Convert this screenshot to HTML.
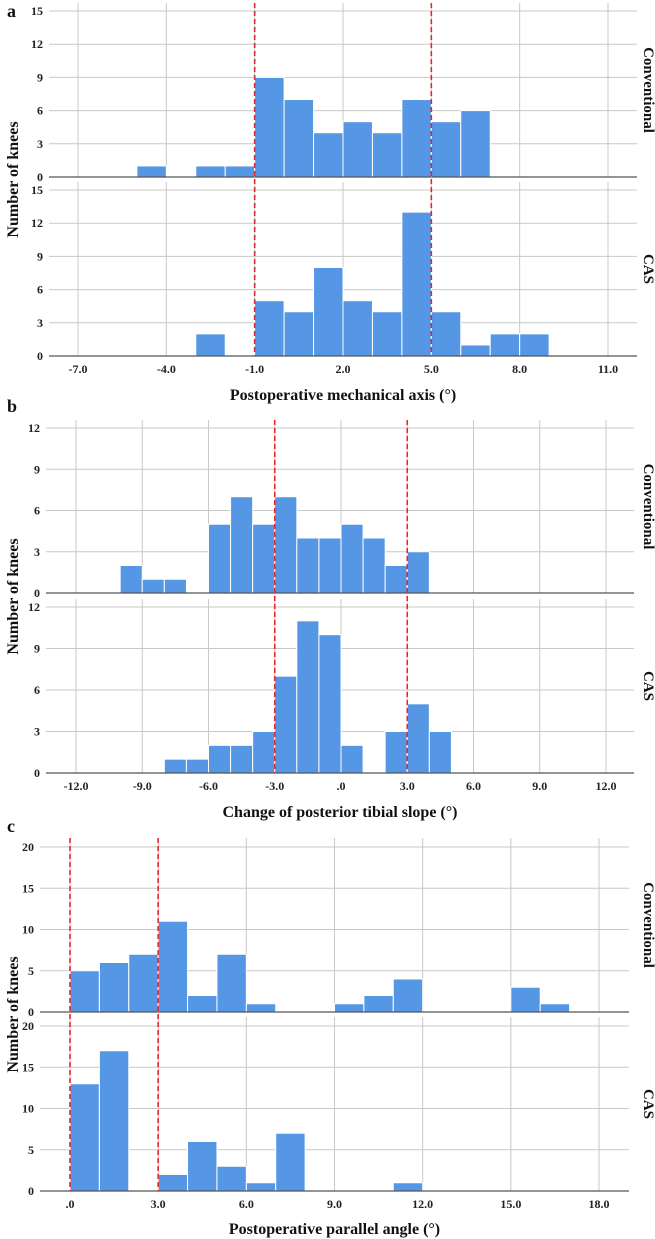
<!DOCTYPE html>
<html><head><meta charset="utf-8">
<style>
html,body{margin:0;padding:0;background:#fff;}
svg{display:block;font-family:"Liberation Serif",serif;}
</style></head>
<body>
<svg id="chart" width="655" height="1239" viewBox="0 0 655 1239" xmlns="http://www.w3.org/2000/svg"></svg>
<script>
// Panel a data
const aBinStarts = [-5,-4,-3,-2,-1,0,1,2,3,4,5,6,7,8];
const aConv = [1,0,1,1,9,7,4,5,4,7,5,6,0,0];
const aCas  = [0,0,2,0,5,4,8,5,4,13,4,1,2,2];
const aXTicks = [-7,-4,-1,2,5,8,11];
const aXLabels = ["-7.0","-4.0","-1.0","2.0","5.0","8.0","11.0"];
const aYTicks = [0,3,6,9,12,15];
const aRefs = [-1,5];
// Panel b data
const bBinStarts = [-10,-9,-8,-7,-6,-5,-4,-3,-2,-1,0,1,2,3,4];
const bConv = [2,1,1,0,5,7,5,7,4,4,5,4,2,3,0];
const bCas  = [0,0,1,1,2,2,3,7,11,10,2,0,3,5,3];
const bXTicks = [-12,-9,-6,-3,0,3,6,9,12];
const bXLabels = ["-12.0","-9.0","-6.0","-3.0",".0","3.0","6.0","9.0","12.0"];
const bYTicks = [0,3,6,9,12];
const bRefs = [-3,3];
// Panel c data
const cBinStarts = [0,1,2,3,4,5,6,7,8,9,10,11,12,13,14,15,16];
const cConv = [5,6,7,11,2,7,1,0,0,1,2,4,0,0,0,3,1];
const cCas  = [13,17,0,2,6,3,1,7,0,0,0,1,0,0,0,0,0];
const cXTicks = [0,3,6,9,12,15,18];
const cXLabels = [".0","3.0","6.0","9.0","12.0","15.0","18.0"];
const cYTicks = [0,5,10,15,20];
const cRefs = [0,3];

const NS="http://www.w3.org/2000/svg";
const svg=document.getElementById('chart');
function mk(tag,attrs,parent){const e=document.createElementNS(NS,tag);for(const k in attrs)e.setAttribute(k,attrs[k]);(parent||svg).appendChild(e);return e;}

function panel(cfg){
  const g=mk('g',{});
  
  
  const xs=v=>cfg.x0+(v-cfg.xa)*(cfg.x1-cfg.x0)/(cfg.xb-cfg.xa);
  const facets=[{vals:cfg.conv,y0:cfg.t0,yM:cfg.tM,top:cfg.tTop,name:'Conventional',key:'conventional'},
                {vals:cfg.cas,y0:cfg.b0,yM:cfg.bM,top:cfg.bTop,name:'CAS',key:'cas'}];
  const maxT=cfg.yTicks[cfg.yTicks.length-1];
  facets.forEach(f=>{
    const ys=v=>f.y0-(v)*(f.y0-f.yM)/maxT;
    cfg.xTicks.forEach(t=>{const l=mk('line',{x1:xs(t),x2:xs(t),y1:f.top,y2:f.y0,stroke:'#c8c8c8','stroke-width':1},g);
      });
    cfg.yTicks.forEach(t=>{
      if(t>0){const l=mk('line',{x1:cfg.fL,x2:cfg.fR,y1:ys(t),y2:ys(t),stroke:'#c8c8c8','stroke-width':1},g);
        }
      const tx=mk('text',{x:cfg.fL-6,y:ys(t)+4,'text-anchor':'end','font-size':12,'font-weight':'bold',fill:'#222'},g);
      tx.textContent=t;
      
    });
    cfg.bins.forEach((b,i)=>{
      const v=f.vals[i]; if(!v) return;
      const r=mk('rect',{x:xs(b),y:ys(v),width:xs(b+1)-xs(b),height:f.y0-ys(v),fill:'#5596e5',stroke:'#fff','stroke-width':1},g);
      
      
    });
    const ax=mk('line',{x1:cfg.fL,x2:cfg.fR,y1:f.y0,y2:f.y0,stroke:'#555','stroke-width':1.2},g);
    
    const cy=(f.top+f.y0)/2;
    const fl=mk('text',{x:644,y:cy,'text-anchor':'middle','font-size':15,'font-weight':'bold',fill:'#111',transform:'rotate(90 644 '+cy+')'},g);
    fl.textContent=f.name;
    
  });
  cfg.refs.forEach(r=>{
    const l=mk('line',{x1:xs(r),x2:xs(r),y1:cfg.tTop,y2:cfg.b0,stroke:'#e8262a','stroke-width':1.6,'stroke-dasharray':'5,3'},g);
    
  });
  cfg.xTicks.forEach((t,i)=>{
    const tx=mk('text',{x:xs(t),y:cfg.labY,'text-anchor':'middle','font-size':12,'font-weight':'bold',fill:'#222'},g);
    tx.textContent=cfg.xLabels[i];
    
  });
  const tt=mk('text',{x:(cfg.fL+cfg.fR)/2,y:cfg.titleY,'text-anchor':'middle','font-size':16,'font-weight':'bold',fill:'#111'},g);
  tt.textContent=cfg.title;
  
  const cy=(cfg.tTop+cfg.b0)/2;
  const yt=mk('text',{x:18,y:cy,'text-anchor':'middle','font-size':16,'font-weight':'bold',fill:'#111',transform:'rotate(-90 18 '+cy+')'},g);
  yt.textContent='Number of knees';
  
  const pl=mk('text',{x:7,y:cfg.letterY,'font-size':18,'font-weight':'bold',fill:'#111'},g);
  pl.textContent=cfg.id;
  
}

panel({id:'a',bins:aBinStarts,conv:aConv,cas:aCas,xTicks:aXTicks,xLabels:aXLabels,yTicks:aYTicks,refs:aRefs,
  xa:-7,xb:11,x0:78,x1:608,fL:49,fR:637,tTop:3,t0:177,tM:11,bTop:182,b0:356,bM:190,labY:373,titleY:400,
  title:'Postoperative mechanical axis (°)',letterY:17});
panel({id:'b',bins:bBinStarts,conv:bConv,cas:bCas,xTicks:bXTicks,xLabels:bXLabels,yTicks:bYTicks,refs:bRefs,
  xa:-12,xb:12,x0:76,x1:606,fL:46,fR:634,tTop:420,t0:593,tM:428,bTop:599,b0:773,bM:607,labY:790,titleY:817,
  title:'Change of posterior tibial slope (°)',letterY:412});
panel({id:'c',bins:cBinStarts,conv:cConv,cas:cCas,xTicks:cXTicks,xLabels:cXLabels,yTicks:cYTicks,refs:cRefs,
  xa:0,xb:18,x0:70,x1:599,fL:40,fR:629,tTop:838,t0:1012,tM:847,bTop:1017,b0:1191,bM:1026,labY:1208,titleY:1234,
  title:'Postoperative parallel angle (°)',letterY:832});
</script>
</body></html>
